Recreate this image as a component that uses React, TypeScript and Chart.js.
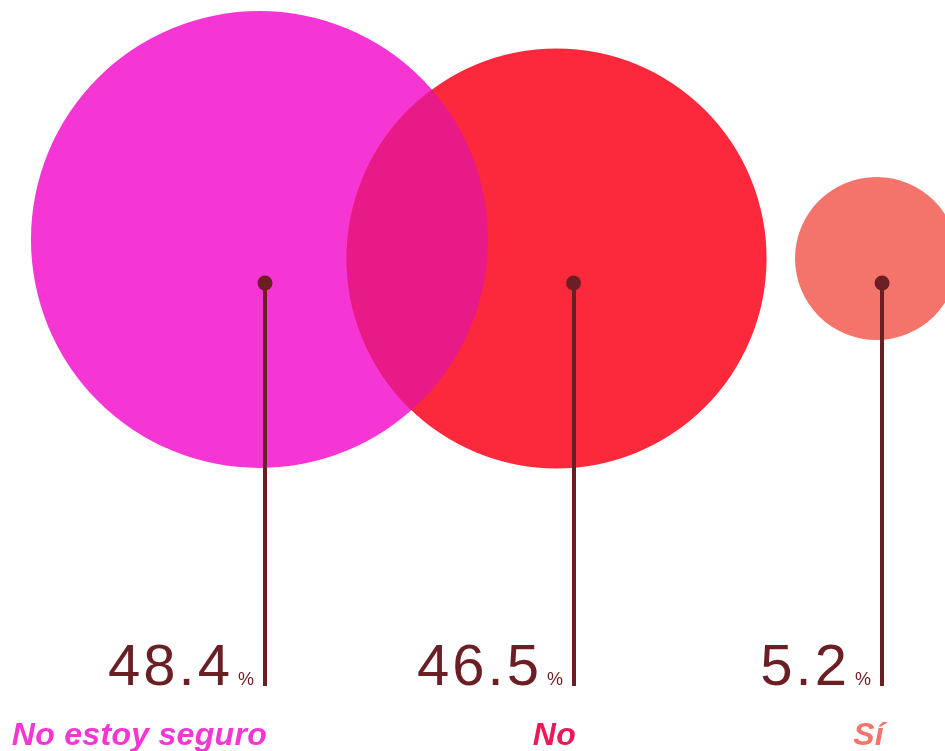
import React, { useEffect, useRef } from "react";
import { Chart, registerables } from "chart.js";

Chart.register(...registerables);

const categories = ["No estoy seguro", "No", "Sí"];
const values = [48.4, 46.5, 5.2];
const valueSuffix = "%";

// style constants (not data)
const bubbleColors = ["#F535D4", "#FC293C", "#F4736A"];
const labelColors = ["#F535D4", "#EE1757", "#F4736A"];
const overlapColor = "#E81A88";
const stemColor = "#6B1F25";
const bubbleRadius = [228.5, 210, 81.5];
const bubbleDx = [-0.018, -0.055, -0.018];
const bubbleDy = [0.435, 0.245, 0.245];

const W = 945;
const H = 751;

export default function App() {
  const ref = useRef<HTMLCanvasElement | null>(null);

  useEffect(() => {
    const canvas = ref.current;
    if (!canvas) return;

    const overlapPlugin = {
      id: "overlapAndStems",
      afterDatasetDraw(chart: any, args: any) {
        if (args.index !== 0) return;
        const ctx = chart.ctx;
        const meta = chart.getDatasetMeta(0);
        const a = meta.data[0] as any;
        const b = meta.data[1] as any;
        ctx.save();
        ctx.beginPath();
        ctx.arc(a.x, a.y, a.options.radius, 0, Math.PI * 2);
        ctx.clip();
        ctx.beginPath();
        ctx.arc(b.x, b.y, b.options.radius, 0, Math.PI * 2);
        ctx.fillStyle = overlapColor;
        ctx.fill();
        ctx.restore();
      },
      beforeDatasetDraw(chart: any, args: any) {
        if (args.index !== 1) return;
        const ctx = chart.ctx;
        const meta = chart.getDatasetMeta(1);
        ctx.save();
        ctx.strokeStyle = stemColor;
        ctx.lineWidth = 4;
        meta.data.forEach((p: any) => {
          ctx.beginPath();
          ctx.moveTo(Math.round(p.x), p.y);
          ctx.lineTo(Math.round(p.x), p.y + 403);
          ctx.stroke();
        });
        ctx.restore();
      },
      afterDraw(chart: any) {
        const ctx = chart.ctx;
        const meta = chart.getDatasetMeta(1);
        ctx.save();
        meta.data.forEach((p: any, i: number) => {
          const lineX = Math.round(p.x);
          const baseY = p.y + 402;
          // percent sign
          ctx.fillStyle = stemColor;
          ctx.textBaseline = "alphabetic";
          ctx.textAlign = "left";
          ctx.font = '18px "Liberation Sans", Arial, sans-serif';
          const pw = ctx.measureText(valueSuffix).width;
          const pRight = lineX - 11;
          const pLeft = pRight - pw;
          ctx.fillText(valueSuffix, pLeft, baseY);
          // number with letter spacing
          ctx.font = '58px "Liberation Sans", Arial, sans-serif';
          const txt = String(values[i]);
          const sp = 3;
          const widths = txt.split("").map((c) => ctx.measureText(c).width);
          const total = widths.reduce((s, w) => s + w, 0) + sp * (txt.length - 1);
          let x = pLeft - 8 - total;
          txt.split("").forEach((c, k) => {
            ctx.fillText(c, x, baseY);
            x += widths[k] + sp;
          });
          // category label
          ctx.font = 'italic bold 32px "Liberation Sans", Arial, sans-serif';
          (ctx as any).letterSpacing = "0.3px";
          ctx.fillStyle = labelColors[i];
          ctx.textAlign = "right";
          ctx.fillText(categories[i], lineX + 2, baseY + 60);
          (ctx as any).letterSpacing = "0px";
        });
        ctx.restore();
      },
    };

    const chart = new Chart(canvas, {
      type: "bubble",
      data: {
        datasets: [
          {
            type: "bubble",
            data: values.map((v, i) => ({
              x: i + bubbleDx[i],
              y: bubbleDy[i],
              r: bubbleRadius[i],
            })),
            backgroundColor: bubbleColors,
            borderWidth: 0,
            hoverBorderWidth: 0,
            clip: false as any,
            order: 1,
          } as any,
          {
            type: "scatter",
            data: values.map((v, i) => ({ x: i, y: 0 })),
            backgroundColor: stemColor,
            borderWidth: 0,
            pointRadius: 7.5,
            pointHoverRadius: 7.5,
            clip: false as any,
            order: 0,
          } as any,
        ],
      },
      options: {
        responsive: false,
        animation: false,
        devicePixelRatio: 1,
        layout: { padding: 0, autoPadding: false } as any,
        events: [],
        plugins: {
          legend: { display: false },
          tooltip: { enabled: false },
        },
        scales: {
          x: { type: "linear", display: false, min: -0.859, max: 2.204 },
          y: { type: "linear", display: false, min: -4.68, max: 2.83 },
        },
      },
      plugins: [overlapPlugin],
    });

    return () => chart.destroy();
  }, []);

  return (
    <div style={{ position: "fixed", left: 0, top: 0, width: W, height: H, background: "#fff" }}>
      <canvas ref={ref} width={W} height={H} style={{ display: "block", width: W, height: H }} />
    </div>
  );
}
